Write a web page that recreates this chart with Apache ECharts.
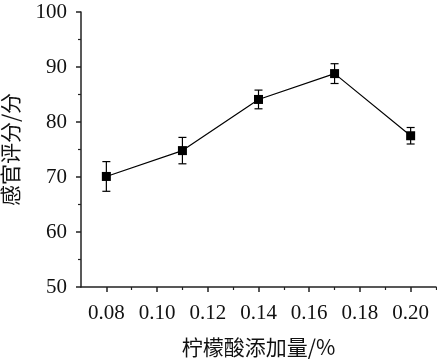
<!DOCTYPE html>
<html><head><meta charset="utf-8">
<script src="https://cdn.jsdelivr.net/npm/echarts@6/dist/echarts.min.js"></script>
<style>html,body{margin:0;padding:0;background:#fff}#c{width:437px;height:363px}</style>
</head><body><div id="c"></div>
<script>
const xValues = [0.08, 0.11, 0.14, 0.17, 0.20];
const scores = [70.1, 74.8, 84.1, 88.8, 77.5];
const errors = [2.7, 2.4, 1.7, 1.8, 1.5];
const xTickLabels = [0.08, 0.10, 0.12, 0.14, 0.16, 0.18, 0.20];
const xMinorTicks = [0.09, 0.11, 0.13, 0.15, 0.17, 0.19, 0.21];
const xName = '柠檬酸添加量/%';
const yName = '感官评分/分';

const chart = echarts.init(document.getElementById('c'));
const serif = 'Liberation Serif';
const cjk = 'Noto Sans CJK SC';
const axisLine = {show: true, lineStyle: {color: '#222', width: 1.5}};
chart.setOption({
  animation: false,
  grid: {left: 81, top: 12, right: 1, bottom: 76, containLabel: false, outerBoundsMode: 'none'},
  xAxis: [{
    type: 'value', min: 0.07, max: 0.21,
    axisLine: axisLine, splitLine: {show: false},
    axisTick: {show: true, length: 5, customValues: xTickLabels, lineStyle: {color: '#222', width: 1.5}},
    axisLabel: {customValues: xTickLabels, formatter: v => v.toFixed(2), fontFamily: serif, fontSize: 21, color: '#111', margin: 16},
    name: xName, nameLocation: 'middle', nameGap: 50,
    nameTextStyle: {fontFamily: cjk, fontSize: 21, color: '#111'}
  }, {
    type: 'value', min: 0.07, max: 0.21, position: 'bottom',
    axisLine: {show: false}, splitLine: {show: false},
    axisTick: {show: true, length: 3, customValues: xMinorTicks, lineStyle: {color: '#222', width: 1.2}},
    axisLabel: {show: false}
  }],
  yAxis: {
    type: 'value', min: 50, max: 100, interval: 10,
    axisLine: axisLine, splitLine: {show: false},
    axisTick: {show: true, length: 5, lineStyle: {color: '#222', width: 1.5}},
    minorTick: {show: true, splitNumber: 2, length: 3, lineStyle: {color: '#222', width: 1.2}},
    axisLabel: {fontFamily: serif, fontSize: 21, color: '#111', margin: 14},
    name: yName, nameLocation: 'middle', nameGap: 60,
    nameTextStyle: {fontFamily: cjk, fontSize: 21, color: '#111'}
  },
  series: [{
    type: 'line', data: xValues.map((x, i) => [x, scores[i]]),
    symbol: 'rect', symbolSize: 9,
    lineStyle: {color: '#000', width: 1.2},
    itemStyle: {color: '#000'}, z: 3
  }, {
    type: 'custom', z: 2,
    data: xValues.map((x, i) => [x, scores[i] - errors[i], scores[i] + errors[i]]),
    renderItem: (params, api) => {
      const lo = api.coord([api.value(0), api.value(1)]);
      const hi = api.coord([api.value(0), api.value(2)]);
      const w = 4;
      const st = {stroke: '#000', lineWidth: 1.2};
      return {type: 'group', children: [
        {type: 'line', shape: {x1: lo[0], y1: lo[1], x2: hi[0], y2: hi[1]}, style: st},
        {type: 'line', shape: {x1: lo[0]-w, y1: lo[1], x2: lo[0]+w, y2: lo[1]}, style: st},
        {type: 'line', shape: {x1: hi[0]-w, y1: hi[1], x2: hi[0]+w, y2: hi[1]}, style: st}
      ]};
    }
  }]
});
</script></body></html>
